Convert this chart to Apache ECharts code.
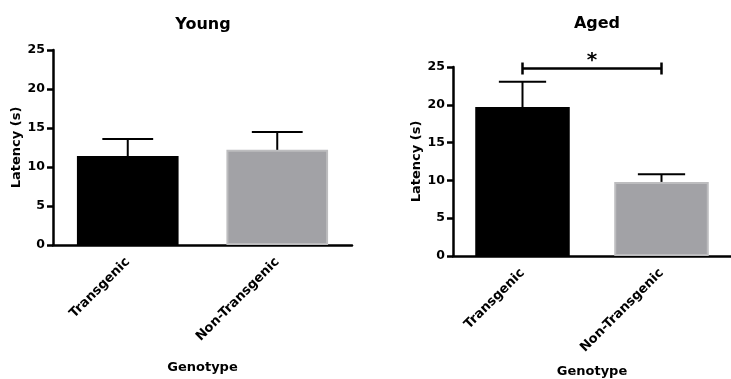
<!DOCTYPE html>
<html>
<head>
<meta charset="utf-8">
<script src="https://cdn.jsdelivr.net/npm/echarts@6/dist/echarts.min.js"></script>
<style>
  html, body { margin: 0; padding: 0; background: #fff; }
  #chart { width: 731px; height: 379px; }
</style>
</head>
<body>
<div id="chart"></div>
<script>
// Latency by genotype, young vs aged mice (mean + SEM)
const categories = ['Transgenic', 'Non-Transgenic'];
const youngMean = [11.4, 12.2];
const youngSem = [2.2, 2.3];
const agedMean = [19.7, 9.8];
const agedSem = [3.35, 1.0];
const yTicks = [0, 5, 10, 15, 20, 25];
// significance bracket between the aged groups: [from, to, height, mark]
const agedSignificance = [[0, 1, 24.8, '*']];

const FONT = '"DejaVu Sans", Verdana, sans-serif';
const barColors = ['#000000', '#a2a2a6'];
const barBorders = ['#000000', '#bdbdbf'];

function barData(values) {
  return values.map((v, i) => ({
    value: v,
    itemStyle: { color: barColors[i], borderColor: barBorders[i], borderWidth: i === 0 ? 0 : 2 }
  }));
}

function errorData(means, sems) {
  return means.map((m, i) => [i, m, m + sems[i]]);
}

// upper-only error bar with a horizontal cap
function renderError(params, api) {
  const x = api.value(0);
  const lo = api.coord([x, api.value(1)]);
  const hi = api.coord([x, api.value(2)]);
  const half = api.size([1, 0])[0] * 0.17;
  const style = { stroke: '#000', lineWidth: 2 };
  return {
    type: 'group',
    children: [
      { type: 'line', shape: { x1: lo[0], y1: lo[1], x2: hi[0], y2: hi[1] }, style },
      { type: 'line', shape: { x1: hi[0] - half, y1: hi[1], x2: hi[0] + half, y2: hi[1] }, style }
    ]
  };
}

function renderBracket(params, api) {
  const a = api.coord([api.value(0), api.value(2)]);
  const b = api.coord([api.value(1), api.value(2)]);
  const style = { stroke: '#000', lineWidth: 2.5 };
  return {
    type: 'group',
    children: [
      { type: 'line', shape: { x1: a[0], y1: a[1], x2: b[0], y2: b[1] }, style },
      { type: 'line', shape: { x1: a[0], y1: a[1] - 6, x2: a[0], y2: a[1] + 6 }, style },
      { type: 'line', shape: { x1: b[0], y1: b[1] - 6, x2: b[0], y2: b[1] + 6 }, style },
      { type: 'text', x: (a[0] + b[0]) / 2, y: a[1] + 2,
        style: { text: api.value(3), fill: '#000', font: 'bold 20px ' + FONT, align: 'center', verticalAlign: 'bottom' } }
    ]
  };
}

const axisLine = { lineStyle: { color: '#000', width: 2.5 } };

function xAxis(gridIndex, gap) {
  return {
    type: 'category', gridIndex, data: categories,
    axisLine, axisTick: { alignWithLabel: true, length: 8, lineStyle: { color: '#000', width: 2.5 } },
    axisLabel: { rotate: 45, margin: 15, color: '#000', fontFamily: FONT, fontWeight: 'bold', fontSize: 13 },
    name: 'Genotype', nameLocation: 'middle', nameGap: gap,
    nameTextStyle: { color: '#000', fontFamily: FONT, fontWeight: 'bold', fontSize: 13 }
  };
}

function yAxis(gridIndex) {
  return {
    type: 'value', gridIndex, min: yTicks[0], max: yTicks[yTicks.length - 1], interval: yTicks[1] - yTicks[0],
    axisLine: Object.assign({ show: true }, axisLine),
    axisTick: { show: true, length: 6, lineStyle: { color: '#000', width: 2.5 } },
    splitLine: { show: false },
    axisLabel: { margin: 8, color: '#000', fontFamily: FONT, fontWeight: 'bold', fontSize: 12.5 },
    name: 'Latency (s)', nameLocation: 'middle', nameGap: 30,
    nameTextStyle: { color: '#000', fontFamily: FONT, fontWeight: 'bold', fontSize: 13 }
  };
}

const chart = echarts.init(document.getElementById('chart'));
chart.setOption({
  animation: false,
  backgroundColor: '#fff',
  title: [
    { text: 'Young', left: 198, top: 12, textAlign: 'center',
      textStyle: { fontFamily: FONT, fontWeight: 'bold', fontSize: 16, color: '#000' } },
    { text: 'Aged', left: 592, top: 11, textAlign: 'center',
      textStyle: { fontFamily: FONT, fontWeight: 'bold', fontSize: 16, color: '#000' } }
  ],
  grid: [
    { left: 53, top: 50, width: 299, height: 199 },
    { left: 453, top: 67, width: 284, height: 189 }
  ],
  xAxis: [xAxis(0, 116), xAxis(1, 109)],
  yAxis: [yAxis(0), yAxis(1)],
  series: [
    { type: 'bar', xAxisIndex: 0, yAxisIndex: 0, barWidth: '68%', data: barData(youngMean) },
    { type: 'custom', xAxisIndex: 0, yAxisIndex: 0, renderItem: renderError,
      data: errorData(youngMean, youngSem), z: 3 },
    { type: 'bar', xAxisIndex: 1, yAxisIndex: 1, barWidth: '68%', data: barData(agedMean) },
    { type: 'custom', xAxisIndex: 1, yAxisIndex: 1, renderItem: renderError,
      data: errorData(agedMean, agedSem), z: 3 },
    { type: 'custom', xAxisIndex: 1, yAxisIndex: 1, renderItem: renderBracket,
      data: agedSignificance, clip: false, z: 4 }
  ]
});
</script>
</body>
</html>
